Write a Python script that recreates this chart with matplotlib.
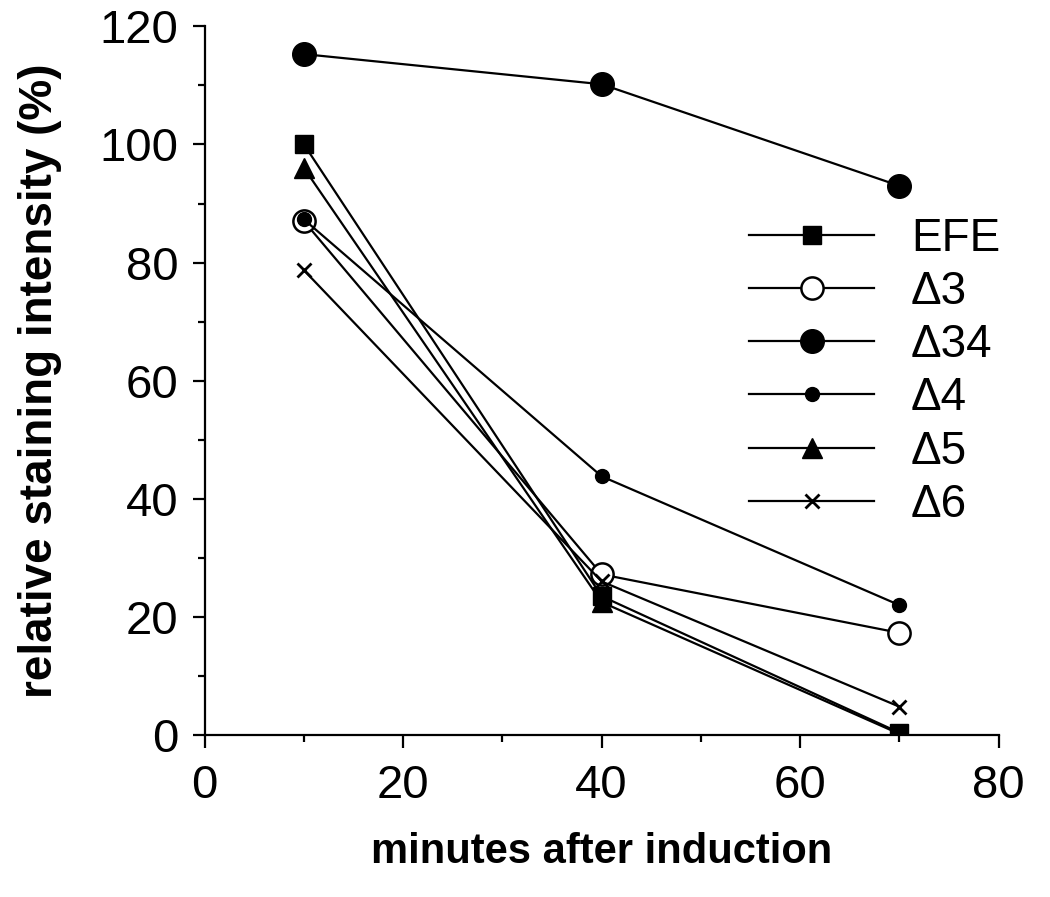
import matplotlib
matplotlib.use('Agg')

import matplotlib.pyplot as plt
from matplotlib.ticker import MultipleLocator

# minutes after induction
minutes = [10, 40, 70]

# relative staining intensity (%) per strain
efe = [100, 23.5, 0.4]
d3 = [87, 27.2, 17.3]
d34 = [115.3, 110.2, 93]
d4 = [87.3, 43.8, 22]
d5 = [96, 22.5, 0.2]
d6 = [78.7, 26, 4.8]

labels = ['EFE', '\u03943', '\u039434', '\u03944', '\u03945', '\u03946']

plt.rcParams['font.family'] = ['Liberation Sans', 'DejaVu Sans']

fig = plt.figure(figsize=[10.5, 8.97], dpi=100)
ax = fig.add_axes([0.195, 0.1806, 0.756, 0.790])

lw = 1.6
ax.plot(minutes, efe, color='black', lw=lw, marker='s', ms=13,
        mfc='black', mec='black', label=labels[0])
ax.plot(minutes, d3, color='black', lw=lw, marker='o', ms=16,
        mfc='white', mec='black', mew=1.8, label=labels[1])
ax.plot(minutes, d34, color='black', lw=lw, marker='o', ms=17,
        mfc='black', mec='black', label=labels[2])
ax.plot(minutes, d4, color='black', lw=lw, marker='o', ms=10,
        mfc='black', mec='black', label=labels[3])
ax.plot(minutes, d5, color='black', lw=lw, marker='^', ms=14,
        mfc='black', mec='black', label=labels[4])
ax.plot(minutes, d6, color='black', lw=lw, marker='x', ms=10,
        mew=2, mec='black', label=labels[5])

ax.set_xlim(0, 80)
ax.set_ylim(0, 120)
ax.xaxis.set_major_locator(MultipleLocator(20))
ax.xaxis.set_minor_locator(MultipleLocator(10))
ax.yaxis.set_major_locator(MultipleLocator(20))
ax.yaxis.set_minor_locator(MultipleLocator(10))

for s in ['top', 'right']:
    ax.spines[s].set_visible(False)
for s in ['left', 'bottom']:
    ax.spines[s].set_linewidth(1.6)

ax.tick_params(which='major', direction='out', length=9, width=1.6,
               labelsize=34)
ax.tick_params(axis='x', which='major', pad=12)
ax.tick_params(axis='y', which='major', pad=10)
ax.tick_params(which='minor', direction='out', length=5, width=1.6)

ax.set_xlabel('minutes after induction', fontsize=30, fontweight='bold',
              labelpad=17)
ax.set_ylabel('relative staining intensity (%)', fontsize=33,
              fontweight='bold', labelpad=27)

leg = ax.legend(loc='upper left', bbox_to_anchor=(0.686, 0.731),
                frameon=False, fontsize=33, handlelength=2.73,
                handletextpad=0.8, labelspacing=0.2, borderaxespad=0,
                borderpad=0)

fig.savefig('out.png', dpi=100)
